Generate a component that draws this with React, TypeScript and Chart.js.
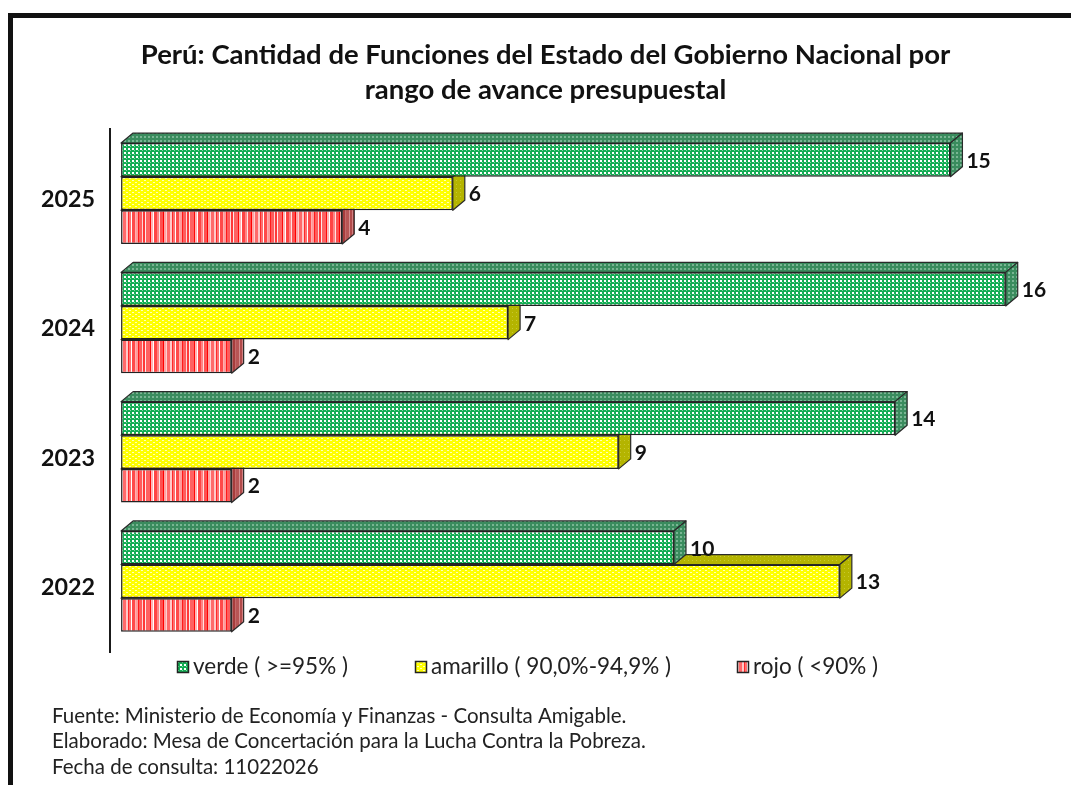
import React, { useEffect, useRef } from 'react';
import { Chart, registerables } from 'chart.js';

Chart.register(...registerables);

// ---- data ----
const years = ['2025', '2024', '2023', '2022'];
const verde = [15, 16, 14, 10];
const amarillo = [6, 7, 9, 13];
const rojo = [4, 2, 2, 2];
const seriesNames = ['verde ( >=95% )', 'amarillo ( 90,0%-94,9% )', 'rojo ( <90% )'];
const titleLines = [
  'Perú: Cantidad de Funciones del Estado del Gobierno Nacional por',
  'rango de avance presupuestal',
];
const footerLines = [
  'Fuente: Ministerio de Economía y Finanzas - Consulta Amigable.',
  'Elaborado: Mesa de Concertación para la Lucha Contra la Pobreza.',
  'Fecha de consulta: 11022026',
];

const FONT = 'Lato, "Open Sans", sans-serif';
const DX = 12;
const DY = 10;

function makeDots(w: number, h: number, bg: string, dots: [number, number, number, number, string][]) {
  const c = document.createElement('canvas');
  c.width = w;
  c.height = h;
  const g = c.getContext('2d')!;
  g.fillStyle = bg;
  g.fillRect(0, 0, w, h);
  dots.forEach(([x, y, dw, dh, col]) => {
    g.fillStyle = col;
    g.fillRect(x, y, dw, dh);
  });
  return g.createPattern(c, 'repeat')!;
}

function makeStripes(stripes: [number, string][]) {
  const w = stripes.reduce((s, v) => s + v[0], 0);
  const c = document.createElement('canvas');
  c.width = w;
  c.height = 4;
  const g = c.getContext('2d')!;
  let x = 0;
  stripes.forEach(([sw, col]) => {
    g.fillStyle = col;
    g.fillRect(x, 0, sw, 4);
    x += sw;
  });
  return g.createPattern(c, 'repeat')!;
}

const redStripes: [number, string][] = [
  [3, '#ff4a4a'], [1, '#ffb0b0'], [2, '#ff9a9a'], [1, '#ff1a1a'], [3, '#ff5c5c'],
  [1, '#ffd6d6'], [2, '#ff3838'], [1, '#ffe8e8'], [4, '#ff6262'], [1, '#ff0a0a'],
  [2, '#ffb4b4'], [1, '#ffffff'], [3, '#ff4444'], [2, '#ff8484'], [1, '#ffe2e2'],
  [3, '#ff5050'], [1, '#ff0000'], [2, '#ffa4a4'], [1, '#ffd0d0'], [3, '#ff6a6a'],
  [2, '#ffc8c8'], [1, '#ff2a2a'], [2, '#ff7070'], [1, '#ffffff'],
];
const redSideStripes: [number, string][] = [
  [2, '#b24a4a'], [1, '#d08080'], [2, '#a83c3c'], [1, '#c46a6a'], [3, '#b85555'], [1, '#d49090'],
];

const App: React.FC = () => {
  const ref = useRef<HTMLCanvasElement>(null);

  useEffect(() => {
    if (!ref.current) return;
    const greenFront = makeDots(4, 4, '#14ad55', [
      [0, 0, 2, 2, '#ffffff'],
      [2, 2, 1, 1, '#7fd6a0'],
    ]);
    const greenSide = makeDots(4, 4, '#3a8c5e', [
      [0, 0, 2, 2, '#79b593'],
    ]);
    const yellowFront = makeDots(6, 4, '#ffff00', [
      [0, 0, 2, 1, '#ffffb8'],
      [3, 2, 2, 1, '#ffffb8'],
    ]);
    const yellowSide = makeDots(4, 4, '#b4b400', [[0, 0, 1, 1, '#c8c830']]);
    const redFront = makeStripes(redStripes);
    const redSide = makeStripes(redSideStripes);

    const fronts = [greenFront, yellowFront, redFront];
    const sides = [greenSide, yellowSide, redSide];

    const depthPlugin = {
      id: 'depth3d',
      beforeDatasetDraw(chart: any, args: any) {
        const ctx = chart.ctx;
        const side = sides[args.index];
        ctx.save();
        args.meta.data.forEach((el: any) => {
          const p = el.getProps(['x', 'y', 'base', 'height'], true);
          const top = p.y - p.height / 2;
          const bottom = p.y + p.height / 2;
          const x0 = Math.min(p.base, p.x);
          const x1 = Math.max(p.base, p.x);
          ctx.lineWidth = 1.2;
          ctx.strokeStyle = '#2a2a2a';
          ctx.lineJoin = 'round';
          ctx.beginPath();
          ctx.moveTo(x0, top);
          ctx.lineTo(x0 + DX, top - DY);
          ctx.lineTo(x1 + DX, top - DY);
          ctx.lineTo(x1, top);
          ctx.closePath();
          ctx.fillStyle = side;
          ctx.fill();
          ctx.stroke();
          ctx.beginPath();
          ctx.moveTo(x1, top);
          ctx.lineTo(x1 + DX, top - DY);
          ctx.lineTo(x1 + DX, bottom - DY);
          ctx.lineTo(x1, bottom);
          ctx.closePath();
          ctx.fill();
          ctx.stroke();
        });
        ctx.restore();
      },
    };

    const labelPlugin = {
      id: 'valueLabels',
      afterDatasetsDraw(chart: any) {
        const ctx = chart.ctx;
        ctx.save();
        ctx.font = `bold 21px ${FONT}`;
        ctx.fillStyle = '#111111';
        ctx.textAlign = 'left';
        ctx.textBaseline = 'middle';
        chart.data.datasets.forEach((ds: any, i: number) => {
          const meta = chart.getDatasetMeta(i);
          meta.data.forEach((el: any, j: number) => {
            const p = el.getProps(['x', 'y'], true);
            ctx.fillText(String(ds.data[j]), p.x + DX + 4, p.y + 1);
          });
        });
        ctx.restore();
      },
    };

    const legendX = [177, 415, 737];
    const extrasPlugin = {
      id: 'legendFooter',
      afterDraw(chart: any) {
        const ctx = chart.ctx;
        ctx.save();
        // y axis line extends a little below the plot, as in the original
        const ya = chart.scales.y;
        ctx.strokeStyle = '#1a1a1a';
        ctx.lineWidth = 2;
        ctx.beginPath();
        ctx.moveTo(Math.round(ya.right), chart.chartArea.bottom - 2);
        ctx.lineTo(Math.round(ya.right), chart.chartArea.bottom + 7);
        ctx.stroke();
        // legend
        ctx.font = `22.5px ${FONT}`;
        ctx.textBaseline = 'middle';
        ctx.textAlign = 'left';
        chart.data.datasets.forEach((ds: any, i: number) => {
          const bx = legendX[i];
          const by = 661;
          ctx.fillStyle = fronts[i];
          ctx.fillRect(bx, by, 12, 12);
          ctx.lineWidth = 1.5;
          ctx.strokeStyle = '#222';
          ctx.strokeRect(bx + 0.5, by + 0.5, 11, 11);
          ctx.fillStyle = '#222';
          ctx.fillText(ds.label, bx + 16, by + 6);
        });
        // footer
        ctx.font = `20.5px ${FONT}`;
        ctx.fillStyle = '#222';
        footerLines.forEach((t, i) => ctx.fillText(t, 52, 716 + i * 25.5));
        ctx.restore();
      },
    };

    const chart = new Chart(ref.current, {
      type: 'bar',
      data: {
        labels: years,
        datasets: [
          { label: seriesNames[0], data: verde, backgroundColor: greenFront },
          { label: seriesNames[1], data: amarillo, backgroundColor: yellowFront },
          { label: seriesNames[2], data: rojo, backgroundColor: redFront },
        ].map((d) => ({
          ...d,
          borderColor: '#222222',
          borderWidth: 1.5,
          borderSkipped: false,
          categoryPercentage: 0.78,
          barPercentage: 1.0,
        })),
      },
      options: {
        indexAxis: 'y',
        responsive: false,
        animation: false,
        events: [],
        layout: { padding: { top: 0, left: 30, right: 10, bottom: 139 } },
        scales: {
          x: {
            display: false,
            min: -0.2,
            max: 17,
          },
          y: {
            grid: { display: false, drawTicks: false },
            border: { display: true, color: '#1a1a1a', width: 2 },
            ticks: {
              font: { family: FONT, size: 23.3, weight: 'bold' },
              color: '#111111',
              padding: 15,
              labelOffset: 6,
            },
            afterFit: (scale: any) => {
              scale.width = 80;
            },
          },
        },
        plugins: {
          legend: { display: false },
          tooltip: { enabled: false },
          title: {
            display: true,
            text: titleLines,
            color: '#111111',
            font: { family: FONT, size: 27.5, weight: 'bold', lineHeight: 1.27 },
            padding: { top: 37.5, bottom: 21.5 },
          },
        },
      } as any,
      plugins: [depthPlugin, labelPlugin, extrasPlugin],
    });
    return () => chart.destroy();
  }, []);

  return (
    <div style={{ position: 'fixed', left: 0, top: 0, width: 1071, height: 785, background: '#ffffff', overflow: 'hidden' }}>
      <div
        style={{
          position: 'absolute',
          left: 8,
          top: 13,
          width: 1200,
          height: 900,
          borderLeft: '5px solid #111',
          borderTop: '5px solid #111',
        }}
      />
      <canvas ref={ref} width={1071} height={785} style={{ position: 'absolute', left: 0, top: 0 }} />
    </div>
  );
};

export default App;
